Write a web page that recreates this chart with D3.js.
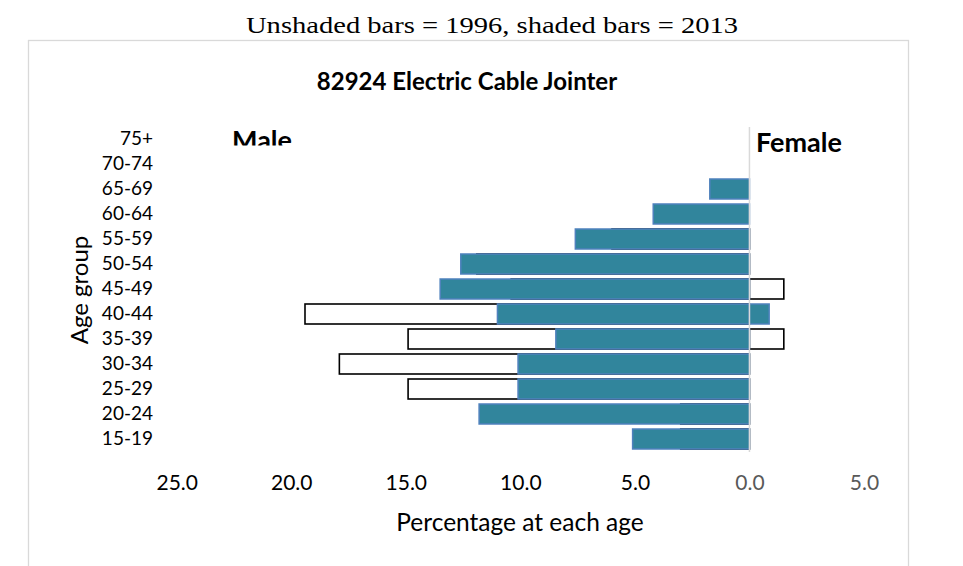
<!DOCTYPE html>
<html>
<head>
<meta charset="utf-8">
<script src="https://cdn.jsdelivr.net/npm/d3@7"></script>
<style>
  html, body { margin: 0; padding: 0; background: #fff; }
  svg { display: block; }
</style>
</head>
<body>
<svg id="chart" width="963" height="566"></svg>
<script>
// ---- data ----
const ageGroups = ["75+", "70-74", "65-69", "60-64", "55-59", "50-54", "45-49", "40-44", "35-39", "30-34", "25-29", "20-24", "15-19"];
const male1996   = [0, 0, 0, 0, 6.0, 11.9, 10.4, 19.4, 14.9, 17.9, 14.9, 3.0, 3.0];
const female1996 = [0, 0, 0, 0, 0, 0, 1.5, 0, 1.5, 0, 0, 0, 0];
const male2013   = [0, 0, 1.73, 4.2, 7.6, 12.6, 13.5, 11.0, 8.45, 10.1, 10.1, 11.8, 5.1];
const female2013 = [0, 0, 0, 0, 0, 0, 0, 0.86, 0, 0, 0, 0, 0];
const xTicks = [-25, -20, -15, -10, -5, 0, 5];

const topNote = "Unshaded bars = 1996, shaded bars = 2013";
const chartTitle = "82924 Electric Cable Jointer";
const xTitle = "Percentage at each age";
const yTitle = "Age group";

// ---- layout ----
const svg = d3.select("#chart");
const FONT = "Lato, 'Open Sans', sans-serif";

const x = d3.scaleLinear().domain([-25, 5]).range([176.7, 864]);
const y = d3.scaleBand().domain(ageGroups).range([126.5, 451.5]).paddingInner(0.2).paddingOuter(0.1);

// frame
svg.append("rect")
  .attr("x", 28.5).attr("y", 40.5).attr("width", 880).attr("height", 600)
  .attr("fill", "#fff").attr("stroke", "#d9d9d9").attr("stroke-width", 1.3);

// top note
svg.append("text")
  .attr("x", 492).attr("y", 33)
  .attr("text-anchor", "middle")
  .style("font-family", "'Liberation Serif', 'DejaVu Serif', serif")
  .style("font-size", "24px")
  .attr("textLength", 492).attr("lengthAdjust", "spacingAndGlyphs")
  .attr("fill", "#000")
  .text(topNote);

// title
svg.append("text")
  .attr("x", 467).attr("y", 90)
  .attr("text-anchor", "middle")
  .style("font-family", FONT)
  .style("font-size", "24px")
  .style("font-weight", "bold")
  .attr("fill", "#000")
  .text(chartTitle);

// 1996 bars (unshaded)
const g = svg.append("g");
g.selectAll("rect.m96").data(ageGroups).join("rect")
  .attr("class", "m96")
  .attr("x", (d, i) => x(-male1996[i]))
  .attr("width", (d, i) => x(0) - x(-male1996[i]))
  .attr("y", d => y(d)).attr("height", y.bandwidth())
  .attr("fill", "#fff")
  .attr("stroke", (d, i) => male1996[i] > 0 ? "#000" : "none")
  .attr("stroke-width", 1.6);
g.selectAll("rect.f96").data(ageGroups).join("rect")
  .attr("class", "f96")
  .attr("x", x(0))
  .attr("width", (d, i) => x(female1996[i]) - x(0))
  .attr("y", d => y(d)).attr("height", y.bandwidth())
  .attr("fill", "#fff")
  .attr("stroke", (d, i) => female1996[i] > 0 ? "#000" : "none")
  .attr("stroke-width", 1.6);

// 2013 bars (shaded)
g.selectAll("rect.m13").data(ageGroups).join("rect")
  .attr("class", "m13")
  .attr("x", (d, i) => x(-male2013[i]))
  .attr("width", (d, i) => x(0) - x(-male2013[i]))
  .attr("y", d => y(d)).attr("height", y.bandwidth())
  .attr("fill", "#31859c")
  .attr("stroke", (d, i) => male2013[i] > 0 ? "#4f81bd" : "none")
  .attr("stroke-width", 1.5);
g.selectAll("rect.f13").data(ageGroups).join("rect")
  .attr("class", "f13")
  .attr("x", x(0))
  .attr("width", (d, i) => x(female2013[i]) - x(0))
  .attr("y", d => y(d)).attr("height", y.bandwidth())
  .attr("fill", "#31859c")
  .attr("stroke", (d, i) => female2013[i] > 0 ? "#4f81bd" : "none")
  .attr("stroke-width", 1.5);

// zero line
svg.append("line")
  .attr("x1", x(0)).attr("x2", x(0))
  .attr("y1", 127).attr("y2", 452)
  .attr("stroke", "#d9d9d9").attr("stroke-width", 1.5);

// x axis (labels only)
const xAxis = d3.axisBottom(x).tickValues(xTicks)
  .tickFormat(d => Math.abs(d).toFixed(1)).tickSize(0).tickPadding(0);
const xa = svg.append("g").attr("transform", "translate(0,475)").call(xAxis);
xa.select(".domain").remove();
xa.selectAll("text")
  .style("font-family", FONT).style("font-size", "21px")
  .attr("fill", d => d >= 0 ? "#595959" : "#000");

// y axis (labels only)
const yAxis = d3.axisLeft(y).tickSize(0).tickPadding(0);
const ya = svg.append("g").attr("transform", "translate(153,0)").call(yAxis);
ya.select(".domain").remove();
ya.selectAll("text")
  .style("font-family", FONT).style("font-size", "19px")
  .attr("fill", "#000");

// axis titles
svg.append("text")
  .attr("x", 520).attr("y", 531)
  .attr("text-anchor", "middle")
  .style("font-family", FONT).style("font-size", "24.5px")
  .attr("fill", "#000")
  .text(xTitle);

svg.append("text")
  .attr("transform", "translate(88,290) rotate(-90)")
  .attr("text-anchor", "middle")
  .style("font-family", FONT).style("font-size", "24px")
  .attr("fill", "#000")
  .text(yTitle);

// Male / Female labels
svg.append("clipPath").attr("id", "maleClip")
  .append("rect").attr("x", 150).attr("y", 110).attr("width", 200).attr("height", 35.5);
svg.append("text")
  .attr("x", 232).attr("y", 150)
  .attr("clip-path", "url(#maleClip)")
  .style("font-family", FONT).style("font-size", "27px").style("font-weight", "bold")
  .attr("fill", "#000")
  .text("Male");
svg.append("text")
  .attr("x", 756).attr("y", 152)
  .style("font-family", FONT).style("font-size", "27px").style("font-weight", "bold")
  .attr("fill", "#000")
  .text("Female");
</script>
</body>
</html>
